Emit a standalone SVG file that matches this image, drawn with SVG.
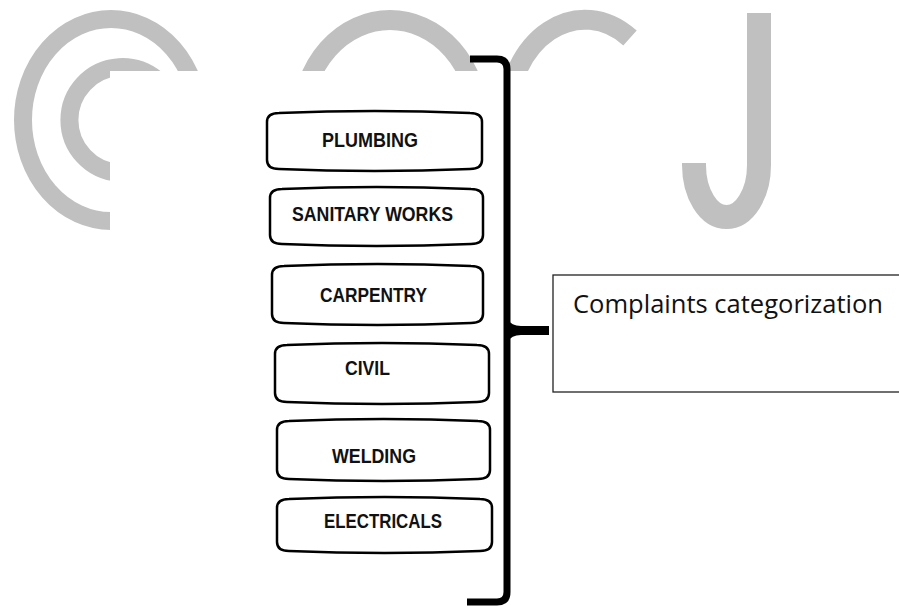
<svg xmlns="http://www.w3.org/2000/svg" width="899" height="606" viewBox="0 0 899 606">
<style>
.wm{fill:none;stroke:#c0c0c0;stroke-linecap:butt}
.box{fill:#fff;stroke:#000;stroke-width:2.5;stroke-linejoin:round}
.lbl{font-family:"Liberation Sans",Arial,sans-serif;font-weight:bold;font-size:19.5px;fill:#111}
.big{font-family:"Open Sans","Noto Sans",sans-serif;font-size:25px;fill:#111}
</style>
<rect x="0" y="0" width="899" height="606" fill="#fff"/>
<g id="watermark">
<ellipse class="wm" cx="111" cy="120" rx="88" ry="101" stroke-width="18"/>
<path class="wm" d="M156,79 A53,53 0 1 0 156,161" stroke-width="18"/>
<ellipse class="wm" cx="390" cy="120" rx="88" ry="100" stroke-width="20"/>
<path class="wm" d="M630,38 A78,100 0 0 0 507,120" stroke-width="20"/>
<path class="wm" d="M759,13 V165 A32.5,52 0 0 1 694,165 V163" stroke-width="24"/>
<rect x="110" y="71" width="550" height="535" fill="#fff"/>
</g>
<g id="connectors">
<path d="M470,59 H497 Q507,59 507,69 V592 Q507,602 497,602 H467" fill="none" stroke="#000" stroke-width="7"/>
<path d="M507,317 Q509,326 521,326 H549 V335 H521 Q509,335 507,345 Z" fill="#000"/>
</g>
<g id="plumbing">
<path class="box" d="M267,122 Q267,113 279,113 Q374.5,109 470,113 Q482,113 482,122 V160 Q482,169 470,169 Q374.5,173 279,169 Q267,169 267,160 Z"/>
<text class="lbl" x="322" y="147" textLength="96" lengthAdjust="spacingAndGlyphs">PLUMBING</text>
</g>
<g id="sanitary">
<path class="box" d="M270,198 Q270,189 282,189 Q376.5,185 471,189 Q483,189 483,198 V235 Q483,244 471,244 Q376.5,248 282,244 Q270,244 270,235 Z"/>
<text class="lbl" x="292" y="221" textLength="161" lengthAdjust="spacingAndGlyphs">SANITARY WORKS</text>
</g>
<g id="carpentry">
<path class="box" d="M272,275 Q272,266 284,266 Q377.5,262 471,266 Q483,266 483,275 V314 Q483,323 471,323 Q377.5,327 284,323 Q272,323 272,314 Z"/>
<text class="lbl" x="320" y="302" textLength="107" lengthAdjust="spacingAndGlyphs">CARPENTRY</text>
</g>
<g id="civil">
<path class="box" d="M275,354 Q275,345 287,345 Q382,341 477,345 Q489,345 489,354 V393 Q489,402 477,402 Q382,406 287,402 Q275,402 275,393 Z"/>
<text class="lbl" x="345" y="375" textLength="45" lengthAdjust="spacingAndGlyphs">CIVIL</text>
</g>
<g id="welding">
<path class="box" d="M277,430 Q277,421 289,421 Q383.5,417 478,421 Q490,421 490,430 V470 Q490,479 478,479 Q383.5,483 289,479 Q277,479 277,470 Z"/>
<text class="lbl" x="332" y="463" textLength="84" lengthAdjust="spacingAndGlyphs">WELDING</text>
</g>
<g id="electricals">
<path class="box" d="M277,508 Q277,499 289,499 Q384.5,495 480,499 Q492,499 492,508 V542 Q492,551 480,551 Q384.5,555 289,551 Q277,551 277,542 Z"/>
<text class="lbl" x="324" y="528" textLength="118" lengthAdjust="spacingAndGlyphs">ELECTRICALS</text>
</g>
<g id="complaints">
<rect x="553" y="275" width="360" height="117" fill="#fff" stroke="#222" stroke-width="1.3"/>
<text class="big" x="573" y="313" textLength="310" lengthAdjust="spacingAndGlyphs">Complaints categorization</text>
</g>
</svg>
